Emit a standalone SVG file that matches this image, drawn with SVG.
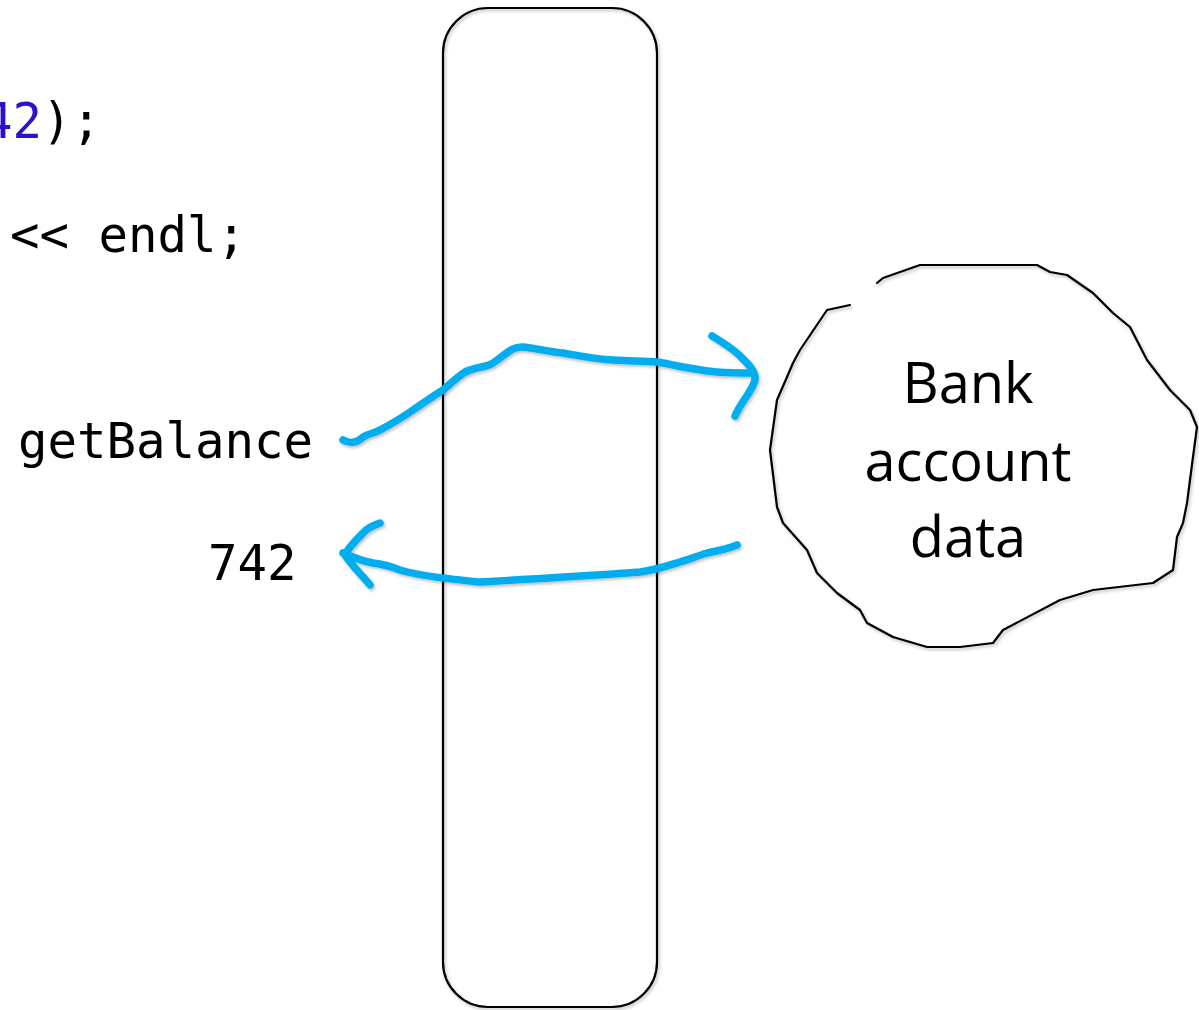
<svg xmlns="http://www.w3.org/2000/svg" width="1199" height="1010" viewBox="0 0 1199 1010">
<style>
.code{font-family:"DejaVu Sans Mono",monospace;font-size:49px;fill:#000}
.num{fill:#2a12cc}
.lbl{font-family:"Open Sans","Liberation Sans",sans-serif;font-size:56px;fill:#000;text-anchor:middle}
.ink{fill:none;stroke:#000;stroke-width:2.2;stroke-linejoin:round;stroke-linecap:round}
.blue{fill:none;stroke:#00aeef;stroke-width:7.5;stroke-linecap:round;stroke-linejoin:round}
</style>
<defs>
<filter id="sh" x="-10%" y="-10%" width="120%" height="120%">
<feDropShadow dx="1.5" dy="2" stdDeviation="1.5" flood-color="#000" flood-opacity="0.25"/>
</filter>
</defs>
<rect width="1199" height="1010" fill="#fff"/>
<g id="code">
<text class="code" x="-17" y="138"><tspan class="num">42</tspan>);</text>
<text class="code" x="10" y="252">&lt;&lt; endl;</text>
<text class="code" x="18" y="458">getBalance</text>
<text class="code" x="208" y="580">742</text>
</g>
<g id="interface">
<rect class="ink" x="443" y="8" width="214" height="999" rx="45" ry="45" filter="url(#sh)"/>
</g>
<g id="object">
<path class="ink" filter="url(#sh)" d="M877,283 L883,278 L920,265 L1037,265 L1050,272 L1067,275 L1093,293 L1113,313 L1130,327 L1147,360 L1170,390 L1190,410 L1197,427 L1193,457 L1187,503 L1183,523 L1177,537 L1173,570 L1153,583 L1093,590 L1060,600 L1003,630 L993,643 L960,647 L927,647 L893,637 L867,623 L860,610 L837,593 L817,573 L807,550 L783,523 L777,507 L770,450 L777,400 L787,377 L793,363 L800,350 L827,310 L850,305"/>
<text class="lbl" x="968" y="403">Bank</text>
<text class="lbl" x="968" y="481">account</text>
<text class="lbl" x="968" y="557">data</text>
</g>
<g id="connectors" filter="url(#sh)">
<path class="blue" d="M343,440 C348,443 356,444 363,437 C370,433 375,433 380,430 C395,422 403,417 413,410 C425,402 433,396 443,390 C455,380 462,372 470,370 C480,366 488,367 493,363 C505,355 512,346 523,347 C540,349 550,352 563,353 C580,356 595,359 613,360 C630,361 645,361 657,362 C670,364 676,366 683,367 C695,369 705,371 717,372 C730,373 742,373 753,373"/>
<path class="blue" d="M712,336 C725,344 735,350 742,358 C750,366 756,372 755,380 C752,392 742,400 735,416"/>
<path class="blue" d="M737,545 C727,549 717,551 707,553 C697,556 690,559 680,562 C667,566 655,570 640,572 C590,576 530,579 480,582 C450,579 420,576 400,570 C390,566 382,564 373,563 C362,561 352,557 343,553"/>
<path class="blue" d="M380,523 C372,526 367,528 363,533 C355,541 348,548 345,555 C352,566 362,575 370,585"/>
</g>
</svg>
